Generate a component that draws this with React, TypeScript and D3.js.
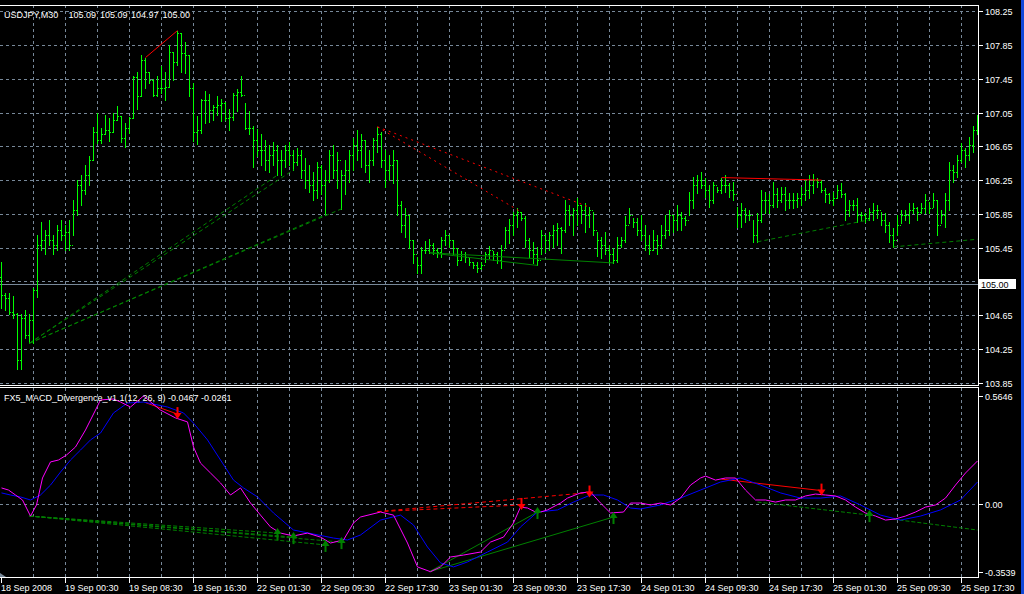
import React from 'react';
import * as d3 from 'd3';

const W = 1024;
const H = 594;

// ---------- price data (M30 bars, open = previous close) ----------
const highs = [
  105.28,104.91,104.91,104.88,104.68,104.66,104.71,104.66,104.97,105.60,
  105.76,105.66,105.78,105.60,105.72,105.78,105.72,105.78,106.02,106.25,
  106.31,106.43,106.53,106.88,107.05,106.87,107.02,106.99,107.05,107.13,
  107.01,106.92,107.00,107.48,107.53,107.73,107.70,107.53,107.45,107.48,
  107.60,107.53,107.85,107.77,108.02,107.99,107.89,107.73,107.40,107.01,
  107.21,107.31,107.27,107.14,107.24,107.21,107.18,107.09,107.28,107.33,
  107.48,107.16,107.07,106.89,106.86,106.79,106.73,106.67,106.70,106.67,
  106.61,106.67,106.70,106.61,106.63,106.61,106.51,106.43,106.35,106.47,
  106.43,106.37,106.61,106.67,106.58,106.37,106.49,106.61,106.75,106.84,
  106.79,106.73,106.61,106.75,106.88,106.82,106.61,106.55,106.61,106.49,
  106.00,105.92,105.84,105.54,105.34,105.46,105.53,105.55,105.51,105.45,
  105.58,105.66,105.60,105.54,105.45,105.41,105.40,105.34,105.28,105.28,
  105.28,105.40,105.47,105.41,105.40,105.48,105.70,105.79,105.87,105.92,
  105.87,105.82,105.57,105.52,105.46,105.66,105.60,105.64,105.72,105.74,
  105.70,106.02,105.95,105.92,106.04,105.95,105.98,105.93,105.87,105.64,
  105.58,105.64,105.48,105.45,105.58,105.58,105.82,105.92,105.80,105.80,
  105.84,105.72,105.60,105.66,105.60,105.72,105.84,105.90,105.84,105.96,
  105.87,105.82,106.11,106.29,106.31,106.35,106.28,106.19,106.23,106.17,
  106.28,106.31,106.22,106.23,105.93,105.98,105.92,105.90,105.78,105.86,
  106.13,106.11,106.08,106.23,106.16,106.17,106.17,106.10,106.10,106.10,
  106.17,106.25,106.31,106.32,106.28,106.25,106.16,106.10,106.11,106.19,
  106.21,106.10,106.02,106.02,106.04,105.87,105.86,105.92,105.98,105.96,
  105.87,105.86,105.76,105.68,105.84,105.90,105.90,105.98,105.98,105.93,
  105.98,106.08,105.99,106.10,106.02,105.90,106.10,106.47,106.43,106.55,
  106.69,106.63,106.76,106.89,107.02
];
const lows = [
  104.74,104.71,104.66,104.62,104.01,104.01,104.38,104.32,104.32,104.87,
  105.42,105.37,105.48,105.37,105.42,105.54,105.42,105.42,105.60,105.84,
  105.96,106.08,106.19,106.49,106.69,106.69,106.79,106.71,106.82,106.96,
  106.70,106.64,106.81,106.98,107.09,107.24,107.34,107.40,107.24,107.25,
  107.28,107.20,107.35,107.44,107.61,107.53,107.52,107.24,106.71,106.68,
  106.81,106.93,106.94,106.96,107.02,106.95,106.96,106.84,106.96,107.07,
  107.24,106.86,106.79,106.40,106.53,106.43,106.37,106.35,106.43,106.31,
  106.31,106.40,106.43,106.37,106.43,106.28,106.16,106.11,106.02,106.04,
  106.08,105.84,106.23,106.28,106.16,105.91,106.08,106.23,106.37,106.49,
  106.40,106.35,106.23,106.43,106.58,106.40,106.17,106.25,106.22,105.84,
  105.64,105.58,105.45,105.27,105.15,105.15,105.39,105.39,105.37,105.34,
  105.34,105.48,105.46,105.37,105.24,105.31,105.28,105.24,105.21,105.16,
  105.20,105.28,105.33,105.31,105.27,105.21,105.45,105.51,105.60,105.70,
  105.78,105.46,105.34,105.27,105.24,105.37,105.40,105.42,105.46,105.48,
  105.39,105.63,105.72,105.60,105.72,105.74,105.64,105.70,105.60,105.35,
  105.33,105.37,105.27,105.27,105.28,105.46,105.52,105.74,105.70,105.60,
  105.54,105.42,105.37,105.42,105.37,105.45,105.57,105.60,105.64,105.66,
  105.66,105.72,105.84,105.92,106.10,106.16,106.05,105.93,105.98,106.11,
  106.10,106.11,106.05,106.02,105.70,105.70,105.76,105.78,105.52,105.52,
  105.76,105.86,105.86,105.93,105.93,105.99,105.90,105.92,105.92,105.93,
  105.96,106.02,106.04,106.10,106.17,106.11,105.99,105.98,105.96,106.04,
  106.05,105.78,105.82,105.90,105.76,105.78,105.76,105.78,105.78,105.80,
  105.72,105.64,105.52,105.46,105.60,105.74,105.78,105.74,105.86,105.78,
  105.86,105.86,105.86,105.93,105.60,105.74,105.70,105.90,106.23,106.29,
  106.47,106.41,106.49,106.58,106.79
];
const closes = [
  104.89,104.86,104.69,104.66,104.12,104.62,104.42,104.60,104.95,105.48,
  105.54,105.60,105.54,105.48,105.66,105.60,105.64,105.48,105.90,106.19,
  106.13,106.31,106.49,106.82,106.73,106.79,106.84,106.82,106.96,107.01,
  106.75,106.87,106.98,107.47,107.24,107.67,107.53,107.44,107.26,107.34,
  107.34,107.35,107.77,107.65,107.99,107.76,107.73,107.34,106.82,106.84,
  107.20,107.20,107.08,107.12,107.14,107.16,106.99,107.00,107.26,107.29,
  107.26,106.87,106.87,106.73,106.61,106.61,106.49,106.55,106.61,106.49,
  106.49,106.61,106.55,106.47,106.55,106.37,106.25,106.19,106.13,106.40,
  106.19,106.25,106.55,106.37,106.49,106.31,106.37,106.55,106.67,106.61,
  106.73,106.43,106.49,106.73,106.79,106.49,106.37,106.43,106.49,105.96,
  105.72,105.84,105.54,105.37,105.25,105.42,105.42,105.48,105.42,105.40,
  105.54,105.60,105.54,105.45,105.31,105.37,105.34,105.28,105.25,105.21,
  105.25,105.37,105.42,105.37,105.31,105.42,105.66,105.72,105.84,105.87,
  105.80,105.54,105.42,105.37,105.31,105.60,105.54,105.60,105.66,105.68,
  105.66,105.90,105.84,105.90,105.96,105.90,105.84,105.90,105.66,105.54,
  105.48,105.42,105.37,105.31,105.48,105.54,105.72,105.84,105.76,105.66,
  105.60,105.48,105.42,105.54,105.48,105.60,105.66,105.84,105.78,105.84,
  105.80,105.78,106.02,106.19,106.25,106.19,106.13,106.02,106.19,106.13,
  106.19,106.19,106.13,106.08,105.84,105.90,105.84,105.84,105.60,105.78,
  106.02,106.02,105.96,106.08,106.02,106.08,106.02,106.02,106.02,106.04,
  106.08,106.13,106.19,106.25,106.23,106.13,106.08,106.02,106.04,106.13,
  106.08,105.90,105.96,105.96,105.84,105.84,105.80,105.87,105.90,105.90,
  105.78,105.72,105.60,105.54,105.72,105.84,105.84,105.90,105.92,105.87,
  105.92,106.02,105.92,106.02,105.72,105.84,106.02,106.37,106.35,106.49,
  106.61,106.55,106.67,106.84,106.96
];
const firstOpen = 105.10;

const priceTicks = [108.25, 107.85, 107.45, 107.05, 106.65, 106.25, 105.85, 105.45, 105.05, 104.65, 104.25, 103.85];
const bidPrice = 105.0;

const timeLabelBars = [0, 16, 32, 48, 64, 80, 96, 112, 128, 144, 160, 176, 192, 208, 224, 240];
const timeLabels = [
  '18 Sep 2008', '19 Sep 00:30', '19 Sep 08:30', '19 Sep 16:30', '22 Sep 01:30', '22 Sep 09:30',
  '22 Sep 17:30', '23 Sep 01:30', '23 Sep 09:30', '23 Sep 17:30', '24 Sep 01:30', '24 Sep 09:30',
  '24 Sep 17:30', '25 Sep 01:30', '25 Sep 09:30', '25 Sep 17:30'
];

// ---------- MACD indicator ----------
const macdBars = [0,1.75,3.5,5.25,7.25,8.75,10.25,12.25,14.25,16.25,18.5,21,23.5,24.75,28,29.75,32.25,35.5,39.75,43.5,46.5,48,49.75,52.25,54.75,57.25,59.75,62.25,64.75,67.25,69.75,73,76.5,79.75,82.25,85.5,88,89.75,94.75,98,101.5,104,107.25,109.75,112.25,115.5,119.75,122.25,125.5,128,129.75,131.5,134,136.5,139.75,141.5,144.75,147.25,149.75,152.25,155.5,157.25,159.75,162.25,164.75,167.25,169.75,172.25,174.75,176,178.5,181,183.5,186,188.5,191,193.5,196,198.5,201,203.5,206,208.5,211,213.5,216,218.5,221,223.5,226,228.5,231,233.5,236,238.5,241,244];
const macdVals = [0.084,0.073,0.047,0.021,-0.063,-0.005,0.136,0.220,0.230,0.256,0.298,0.387,0.491,0.544,0.549,0.533,0.507,0.5646,0.491,0.450,0.429,0.298,0.214,0.162,0.110,0.047,0.084,0.005,-0.058,-0.120,-0.152,-0.167,-0.152,-0.173,-0.204,-0.188,-0.099,-0.068,-0.042,-0.058,-0.204,-0.329,-0.3539,-0.329,-0.277,-0.267,-0.251,-0.199,-0.173,-0.099,-0.016,-0.021,-0.047,-0.031,0.005,0.031,0.058,0.063,0.005,-0.047,-0.042,0.005,0.005,-0.005,0.005,-0.005,0.031,0.099,0.136,0.146,0.125,0.136,0.136,0.073,0.021,0.021,0.010,0.021,0.021,0.042,0.052,0.047,0.042,0.021,-0.016,-0.047,-0.063,-0.084,-0.078,-0.063,-0.042,-0.016,-0.005,0.031,0.099,0.162,0.225];
const signalBars = [0,2.25,4.75,7.25,9.75,12.25,14.75,17.25,19.75,22.25,24.75,28,31.5,35.5,41.5,45.5,48,51.5,54.75,58,60.5,64,68,73,78,83,86.5,89.75,94.75,99.75,103,106.5,109.75,113,116.5,121.5,126.5,129.75,134,139,143,147.25,150.5,154,157.25,159.75,164.75,169.75,174.75,179.75,184.75,189.75,194.75,199.75,204.75,209.75,214.75,219.75,224.75,229.75,234.75,239.75,244];
const signalVals = [0.058,0.047,0.037,0.021,0.047,0.099,0.167,0.230,0.282,0.335,0.371,0.476,0.528,0.533,0.507,0.476,0.423,0.335,0.230,0.125,0.084,0.037,-0.047,-0.136,-0.157,-0.178,-0.188,-0.162,-0.084,-0.058,-0.110,-0.225,-0.308,-0.329,-0.303,-0.251,-0.199,-0.120,-0.042,-0.031,0.010,0.047,0.047,0.021,-0.021,-0.026,-0.005,0.031,0.073,0.115,0.136,0.099,0.058,0.031,0.031,0.042,-0.005,-0.058,-0.084,-0.063,-0.031,0.021,0.115];
const indTicks = [0.5646, 0.0, -0.3539];
const indTickLabels = ['0.5646', '0.00', '-0.3539'];

// ---------- divergence lines: [bar1, value1, bar2, value2] ----------
const priceBearSolid = [[36, 107.70, 44, 108.02], [180, 106.28, 205, 106.25]];
const priceBearDotted = [[94, 106.88, 130, 105.87], [94, 106.88, 147, 105.93]];
const priceBullDotted = [[7, 104.32, 69, 106.31], [7, 104.32, 73, 106.37], [7, 104.32, 81, 105.84], [7, 104.32, 85, 105.91], [189, 105.52, 217, 105.78], [223, 105.46, 244, 105.55]];
const priceBullSolid = [[107, 105.39, 134, 105.24], [107, 105.39, 153, 105.27]];

const indBearSolid = [[36, 0.53, 44, 0.47], [180, 0.13, 205, 0.07]];
const indBearDashed = [[94, -0.04, 130, -0.005], [94, -0.04, 147, 0.06]];
const indBullDashed = [[7, -0.063, 69, -0.152], [7, -0.063, 73, -0.173], [7, -0.063, 81, -0.214], [7, -0.063, 85, -0.199], [189, 0.01, 217, -0.058], [223, -0.08, 244, -0.136]];
const indBullSolid = [[107, -0.3539, 134, -0.042], [107, -0.3539, 153, -0.068]];
const downArrowBars = [44, 130, 147, 205];
const downArrowVals = [0.47, -0.005, 0.06, 0.07];
const upArrowBars = [69, 73, 81, 85, 134, 153, 217];
const upArrowVals = [-0.152, -0.173, -0.214, -0.199, -0.042, -0.068, -0.058];

// ---------- layout ----------
const plotRight = 978;
const mainTop = 5;
const mainBottom = 386;
const indTop = 388;
const indBottom = 578;

const FONT = "'Liberation Sans', Arial, sans-serif";
const GRID = '#778899';
const BAR = '#00ff00';
const DGREEN = '#008000';
const RED = '#ff0000';

export default function App() {
  const x = d3.scaleLinear().domain([0, 244]).range([1, 977]);
  const yP = d3.scaleLinear().domain([103.85, 108.25]).range([382.9, 11.1]);
  const yI = d3.scaleLinear().domain([-0.3539, 0.5646]).range([571.7, 396.0]);
  const px = (v: number) => Math.round(v);
  const cx = (b: number) => x(b) + 0.5;

  const macdLine = d3.line<number>().x((_, i) => cx(macdBars[i])).y((v) => yI(v));
  const sigLine = d3.line<number>().x((_, i) => cx(signalBars[i])).y((v) => yI(v));

  const gridBars = d3.range(8, 244, 8);

  const seg = (arr: number[][], ys: (v: number) => number, stroke: string, dash?: string, w = 1) =>
    arr.map((s, i) => (
      <line key={i} x1={cx(s[0])} y1={ys(s[1])} x2={cx(s[2])} y2={ys(s[3])} stroke={stroke} strokeWidth={w} strokeDasharray={dash} />
    ));

  const downArrow = (b: number, v: number, k: number) => {
    const X = cx(b), Y = yI(v);
    return (
      <g key={'d' + k} fill={RED}>
        <rect x={X - 1} y={Y - 7} width={2} height={7} />
        <path d={`M${X - 4},${Y - 1} L${X + 4},${Y - 1} L${X},${Y + 5} Z`} />
      </g>
    );
  };
  const upArrow = (b: number, v: number, k: number) => {
    const X = cx(b), Y = yI(v);
    return (
      <g key={'u' + k} fill={DGREEN}>
        <rect x={X - 1} y={Y} width={2} height={7} />
        <path d={`M${X - 4},${Y + 1} L${X + 4},${Y + 1} L${X},${Y - 5} Z`} />
      </g>
    );
  };

  return (
    <svg width={W} height={H} style={{ position: 'absolute', left: 0, top: 0, background: '#000' }}>
      <defs>
        <clipPath id="mainClip"><rect x={0} y={mainTop} width={plotRight} height={mainBottom - mainTop} /></clipPath>
        <clipPath id="indClip"><rect x={0} y={indTop} width={plotRight} height={indBottom - indTop} /></clipPath>
      </defs>
      <rect x={0} y={0} width={W} height={H} fill="#000" />

      {/* ---------- main pane grid ---------- */}
      <g shapeRendering="crispEdges" stroke={GRID} strokeDasharray="3,3">
        {priceTicks.map((p, i) => (
          <line key={'hg' + i} x1={0} x2={plotRight} y1={px(yP(p)) + 0.5} y2={px(yP(p)) + 0.5} />
        ))}
        {gridBars.map((b) => (
          <line key={'vg' + b} x1={cx(b)} x2={cx(b)} y1={mainTop} y2={mainBottom} />
        ))}
        {gridBars.map((b) => (
          <line key={'vi' + b} x1={cx(b)} x2={cx(b)} y1={indTop} y2={indBottom} />
        ))}
        <line x1={0} x2={plotRight} y1={px(yI(0)) + 0.5} y2={px(yI(0)) + 0.5} />
      </g>

      {/* bid line */}
      <line x1={0} x2={plotRight} y1={px(yP(bidPrice)) - 1.5} y2={px(yP(bidPrice)) - 1.5} stroke={GRID} shapeRendering="crispEdges" />

      {/* ---------- OHLC bars ---------- */}
      <g clipPath="url(#mainClip)" shapeRendering="crispEdges" fill={BAR}>
        {highs.map((h, i) => {
          const c = px(x(i));
          const yh = px(yP(h));
          const yl = px(yP(lows[i]));
          const o = i === 0 ? firstOpen : closes[i - 1];
          return (
            <g key={i}>
              <rect x={c} y={yh} width={1} height={Math.max(1, yl - yh + 1)} />
              <rect x={c - 1} y={px(yP(o))} width={1} height={1} />
              <rect x={c + 1} y={px(yP(closes[i]))} width={1} height={1} />
            </g>
          );
        })}
      </g>

      {/* ---------- price divergence lines ---------- */}
      <g clipPath="url(#mainClip)">
        {seg(priceBullDotted, yP, DGREEN, '4,3')}
        {seg(priceBullSolid, yP, DGREEN)}
        {seg(priceBearDotted, yP, RED, '2,4')}
        {seg(priceBearSolid, yP, RED)}
      </g>

      {/* ---------- indicator ---------- */}
      <g clipPath="url(#indClip)">
        {seg(indBullDashed, yI, DGREEN, '4,2')}
        {seg(indBullSolid, yI, DGREEN)}
        {seg(indBearDashed, yI, RED, '4,3')}
        {seg(indBearSolid, yI, RED)}
        <path d={sigLine(signalVals) || ''} fill="none" stroke="#0000ff" strokeWidth={1} />
        <path d={macdLine(macdVals) || ''} fill="none" stroke="#ff00ff" strokeWidth={1} />
        {downArrowBars.map((b, i) => downArrow(b, downArrowVals[i], i))}
        {upArrowBars.map((b, i) => upArrow(b, upArrowVals[i], i))}
      </g>

      {/* ---------- frames ---------- */}
      <g stroke="#ffffff" shapeRendering="crispEdges" fill="none">
        <line x1={0} x2={plotRight + 0.5} y1={mainTop + 0.5} y2={mainTop + 0.5} />
        <line x1={0} x2={plotRight + 0.5} y1={mainBottom - 0.5} y2={mainBottom - 0.5} />
        <line x1={0} x2={plotRight + 0.5} y1={indTop - 0.5} y2={indTop - 0.5} />
        <line x1={0} x2={plotRight + 0.5} y1={indBottom - 0.5} y2={indBottom - 0.5} />
        <line x1={plotRight + 0.5} x2={plotRight + 0.5} y1={mainTop} y2={mainBottom} />
        <line x1={plotRight + 0.5} x2={plotRight + 0.5} y1={indTop - 1} y2={indBottom} />
        {priceTicks.map((p, i) => (
          <line key={'pt' + i} x1={plotRight + 1} x2={plotRight + 5} y1={px(yP(p)) + 0.5} y2={px(yP(p)) + 0.5} />
        ))}
        {indTicks.map((v, i) => (
          <line key={'it' + i} x1={plotRight + 1} x2={plotRight + 5} y1={px(yI(v)) + 0.5} y2={px(yI(v)) + 0.5} />
        ))}
        {timeLabelBars.map((b) => (
          <line key={'tt' + b} x1={cx(b)} x2={cx(b)} y1={indBottom} y2={indBottom + 5} />
        ))}
      </g>
      <path d={`M0,${indBottom - 5} L0,${indBottom - 1} L6,${indBottom - 1} Z`} fill={GRID} />

      {/* ---------- texts ---------- */}
      <g fontFamily={FONT} fontSize={9} fill="#ffffff">
        <text y={17.5}>
          <tspan x={4}>USDJPY,M30</tspan>
          <tspan x={68.5}>105.09</tspan>
          <tspan x={100}>105.09</tspan>
          <tspan x={131}>104.97</tspan>
          <tspan x={162.5}>105.00</tspan>
        </text>
        <text x={4} y={400.5}>FX5_MACD_Divergence_v1.1(12, 26, 9) -0.0467 -0.0261</text>
        {priceTicks.map((p, i) => (
          <text key={'pl' + i} x={985} y={px(yP(p)) + 3.5}>{p.toFixed(2)}</text>
        ))}
        {indTicks.map((v, i) => (
          <text key={'il' + i} x={985} y={px(yI(v)) + 3.5}>{indTickLabels[i]}</text>
        ))}
        {timeLabelBars.map((b, i) => (
          <text key={'tl' + b} x={cx(b) - 0.5} y={590.5}>{timeLabels[i]}</text>
        ))}
      </g>

      {/* bid price label */}
      <rect x={979} y={px(yP(bidPrice)) - 7} width={37} height={10} fill="#ffffff" />
      <text x={981} y={px(yP(bidPrice)) + 1.5} fontFamily={FONT} fontSize={9} fill="#000000">{bidPrice.toFixed(2)}</text>

      {/* window edge */}
      <rect x={1021} y={0} width={3} height={H} fill="#1048d8" />
    </svg>
  );
}
